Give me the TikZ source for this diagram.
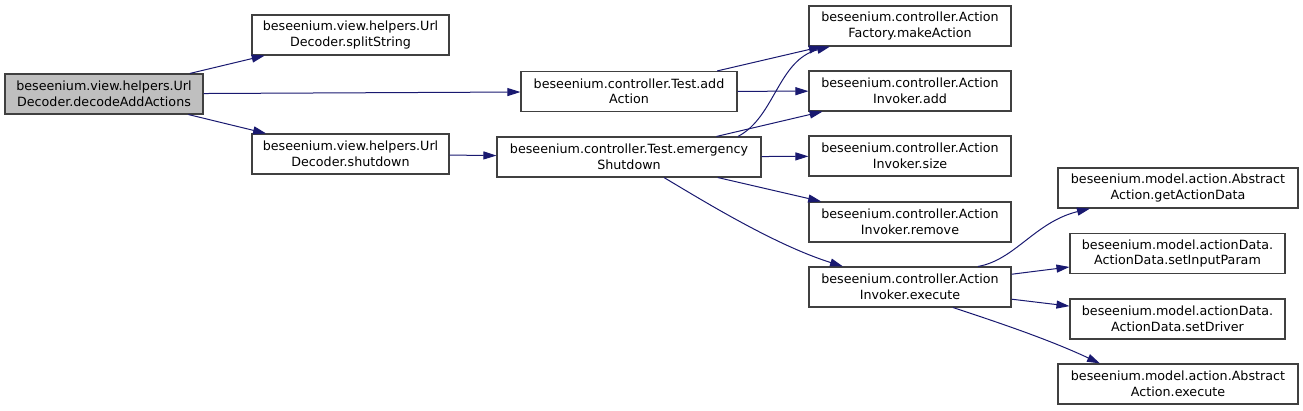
\documentclass[tikz,border=0pt]{standalone}
\usepackage{fontspec}
\setmainfont{DejaVu Sans}
\usetikzlibrary{arrows.meta,calc}
\definecolor{edgeblue}{RGB}{25,25,112}
\definecolor{rootgrey}{RGB}{191,191,191}
\begin{document}
\begin{tikzpicture}[x=1pt,y=-1pt,
  fn/.style={draw=black!75, line width=1.1pt, fill=white, minimum height=40pt, inner sep=0pt, align=center, font=\fontsize{12.7}{15.5}\selectfont},
  edge/.style={draw=edgeblue, line width=1pt, -{Triangle[length=13pt,width=8pt]}}]
\useasboundingbox (0,0) rectangle (1303,411);
\node[fn, fill=rootgrey, minimum width=198pt] (root) at (104,94) {beseenium.view.helpers.Url\\Decoder.decodeAddActions};
\node[fn, minimum width=197pt] (split) at (350.5,35) {beseenium.view.helpers.Url\\Decoder.splitString};
\node[fn, minimum width=197pt] (shut) at (350.5,154) {beseenium.view.helpers.Url\\Decoder.shutdown};
\node[fn, minimum width=216pt] (addA) at (629,91.5) {beseenium.controller.Test.add\\Action};
\node[fn, minimum width=264pt] (emerg) at (629,157) {beseenium.controller.Test.emergency\\Shutdown};
\node[fn, minimum width=202pt] (make) at (910,26) {beseenium.controller.Action\\Factory.makeAction};
\node[fn, minimum width=202pt] (add) at (910,91) {beseenium.controller.Action\\Invoker.add};
\node[fn, minimum width=202pt] (size) at (910,156) {beseenium.controller.Action\\Invoker.size};
\node[fn, minimum width=202pt] (remove) at (910,222) {beseenium.controller.Action\\Invoker.remove};
\node[fn, minimum width=202pt] (exec) at (910,287) {beseenium.controller.Action\\Invoker.execute};
\node[fn, minimum width=240pt] (getAD) at (1178,188) {beseenium.model.action.Abstract\\Action.getActionData};
\node[fn, minimum width=215pt] (setIP) at (1177.5,253.5) {beseenium.model.actionData.\\ActionData.setInputParam};
\node[fn, minimum width=215pt] (setDr) at (1177.5,319) {beseenium.model.actionData.\\ActionData.setDriver};
\node[fn, minimum width=240pt] (absEx) at (1178,384) {beseenium.model.action.Abstract\\Action.execute};

\draw[edge] (root) -- (split);
\draw[edge] (root) -- (addA);
\draw[edge] (root) -- (shut);
\draw[edge] (shut) -- (emerg);
\draw[edge] (addA) -- (make);
\draw[edge] (addA) -- (add);
\draw[edge] ($(emerg.north)+(109,0)$) .. controls (775,117) and (778,60) .. ($(make.south)+(-80,0)$);
\draw[edge] (emerg) -- (add);
\draw[edge] (emerg) -- (size);
\draw[edge] (emerg) -- (remove);
\draw[edge] ($(emerg.south)+(35,0)$) .. controls (705,202) and (775,245) .. ($(exec.north)+(-67,0)$);
\draw[edge] ($(exec.north)+(68,0)$) .. controls (1015,260) and (1035,222) .. ($(getAD.south)+(-88,0)$);
\draw[edge] (exec) -- (setIP);
\draw[edge] (exec) -- (setDr);
\draw[edge] ($(exec.south)+(43,0)$) .. controls (1000,323) and (1050,340) .. ($(absEx.north)+(-78,0)$);
\end{tikzpicture}
\end{document}
